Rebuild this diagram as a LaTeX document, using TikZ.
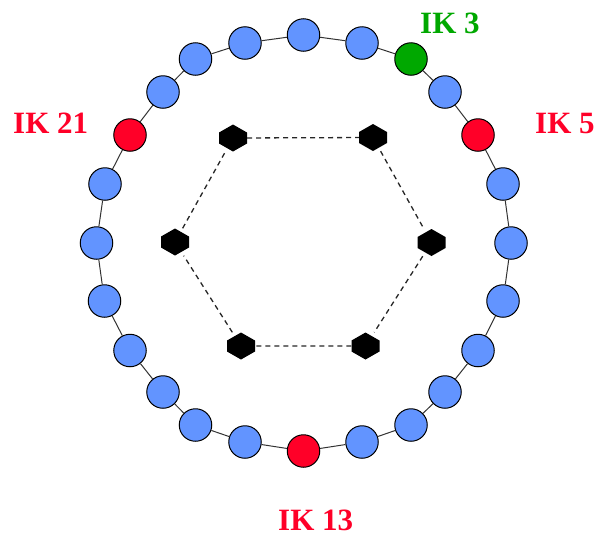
\documentclass[tikz,border=0pt]{standalone}
\usepackage{fontspec}
\setmainfont{Liberation Serif}
\definecolor{ikblue}{RGB}{98,148,255}
\definecolor{ikred}{RGB}{255,0,40}
\definecolor{ikgreen}{RGB}{0,168,0}
\begin{document}
\begin{tikzpicture}[x=1pt,y=-1pt,
  ik/.style={circle,draw=black,line width=1pt,fill=ikblue,minimum size=32.5pt,inner sep=0pt},
  redik/.style={ik,fill=ikred},
  greenik/.style={ik,fill=ikgreen},
  ring/.style={draw=black!80,line width=1pt},
  hexnode/.style={minimum width=28pt,minimum height=27pt,inner sep=0pt,
    path picture={\fill[black] ([yshift=13.5pt]path picture bounding box.center)
      -- ++(14pt,-8pt) -- ++(0,-11pt) -- ++(-14pt,-8pt) -- ++(-14pt,8pt)
      -- ++(0,11pt) -- cycle;}},
  link/.style={draw=black!85,line width=1.3pt,dash pattern=on 5pt off 4pt},
  lab/.style={font=\bfseries\fontsize{31}{31}\selectfont,inner sep=0pt,anchor=base west}
]
\useasboundingbox (0,0) rectangle (600,536);

% the 24 positions on the outer ring, numbered clockwise from the top
\foreach \i/\x/\y/\s in {
   1/303.5/35/ik,     2/362/43/ik,      3/411/59/greenik, 4/445/92/ik,
   5/478/135/redik,   6/503/184/ik,     7/511/243/ik,     8/503/301/ik,
   9/478/350.5/ik,   10/445/392/ik,    11/411/425/ik,    12/362/442/ik,
  13/303.5/451/redik,14/245/442/ik,    15/195.5/425/ik,  16/163/392/ik,
  17/130/350.5/ik,   18/104.5/301/ik,  19/96.5/243/ik,   20/105/184/ik,
  21/130/135/redik,  22/163/92/ik,     23/195.5/59/ik,   24/245/43/ik}
  \node[\s] (c\i) at (\x,\y) {};

% ring segments between neighbours
\foreach \i [evaluate=\i as \j using {int(mod(\i,24)+1)}] in {1,...,24}
  \draw[ring] (c\i) -- (c\j);

% inner hexagon of black markers
\node[hexnode] (h1) at (233,138) {};
\node[hexnode] (h2) at (373,137.5) {};
\node[hexnode] (h3) at (431.5,242.5) {};
\node[hexnode] (h4) at (365.5,346) {};
\node[hexnode] (h5) at (241,346) {};
\node[hexnode] (h6) at (175,242) {};
\draw[link] (h1) -- (h2) -- (h3) -- (h4) -- (h5) -- (h6) -- (h1);

% labels
\node[lab,text=ikgreen] (l3) at (420,33) {IK 3};
\node[lab,text=ikred] (l5) at (535,133) {IK 5};
\node[lab,text=ikred] (l21) at (13,133) {IK 21};
\node[lab,text=ikred] (l13) at (278,530) {IK 13};
\end{tikzpicture}
\end{document}
